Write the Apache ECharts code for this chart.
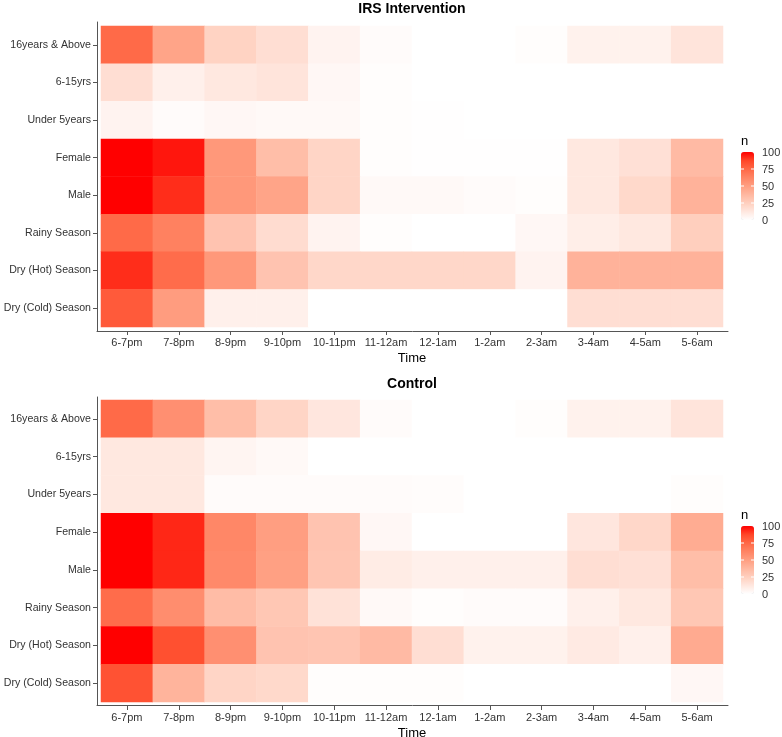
<!DOCTYPE html>
<html>
<head>
<meta charset="utf-8">
<script src="https://cdn.jsdelivr.net/npm/echarts@6/dist/echarts.min.js"></script>
<style>
html,body{margin:0;padding:0;background:#fff;}
#chart{width:782px;height:737px;}
</style>
</head>
<body>
<div id="chart"></div>
<script>
// ---- categories ----
const times = ['6-7pm','7-8pm','8-9pm','9-10pm','10-11pm','11-12am','12-1am','1-2am','2-3am','3-4am','4-5am','5-6am'];
const groups = ['16years & Above','6-15yrs','Under 5years','Female','Male','Rainy Season','Dry (Hot) Season','Dry (Cold) Season'];
const legendTicks = [0, 25, 50, 75, 100];

// ---- IRS Intervention (values per group, across times) ----
const irsAbove16 = [74, 47, 23, 17, 6, 2, 0, 0, 1, 7, 7, 14];
const irs6to15   = [17, 8, 12, 14, 4, 1, 0, 0, 0, 0, 0, 0];
const irsUnder5  = [6, 2, 4, 3, 3, 1, 0.5, 0, 0, 0, 0, 0];
const irsFemale  = [100, 96, 53, 34, 22, 1, 0.5, 0.5, 0.5, 12, 16, 36];
const irsMale    = [100, 92, 53, 47, 22, 3, 3, 2, 1, 12, 20, 40];
const irsRainy   = [74, 64, 31, 18, 6, 1, 0, 0, 4, 9, 12, 25];
const irsDryHot  = [92, 73, 53, 31, 21, 21, 21, 21, 6, 40, 40, 40];
const irsDryCold = [80, 51, 8, 8, 0, 0, 0, 0, 0, 17, 17, 17];

// ---- Control ----
const ctlAbove16 = [74, 57, 34, 22, 13, 2, 0, 0, 1, 7, 7, 14];
const ctl6to15   = [12, 12, 5, 3, 0, 0, 0, 0, 0, 0, 0, 0];
const ctlUnder5  = [12, 12, 2, 2, 2, 2, 1.5, 0, 0, 0, 0, 1];
const ctlFemale  = [100, 93, 61, 50, 31, 4, 0, 0, 0, 13, 21, 43];
const ctlMale    = [100, 93, 60, 49, 30, 10, 8, 8, 8, 17, 16, 34];
const ctlRainy   = [73, 58, 35, 29, 15, 3, 1, 2, 2, 8, 12, 29];
const ctlDryHot  = [100, 84, 57, 31, 30, 36, 17, 7, 7, 11, 8, 44];
const ctlDryCold = [83, 39, 22, 20, 1, 1, 1, 0, 0, 0, 0, 4];

const irsRows = [irsAbove16, irs6to15, irsUnder5, irsFemale, irsMale, irsRainy, irsDryHot, irsDryCold];
const ctlRows = [ctlAbove16, ctl6to15, ctlUnder5, ctlFemale, ctlMale, ctlRainy, ctlDryHot, ctlDryCold];

function toCells(rows) {
  const out = [];
  rows.forEach((r, gi) => r.forEach((v, ti) => out.push([ti, gi, v])));
  return out;
}

// white -> red gradient (Lab-like interpolation as in ggplot)
const gradColors = ['#FFFFFF','#FFE7DF','#FFCFBE','#FFB7A0','#FF9E81','#FF8464','#FF6846','#FF4628','#FF0000'];

const FONT = 'Liberation Sans, Arial, sans-serif';
const AXC = '#555555';
const TXT = '#333333';

const panels = [
  { title: 'IRS Intervention', panelTop: 22, panelH: 309, tileTop: 26, tileH: 301, legTop: 152, rows: irsRows },
  { title: 'Control',          panelTop: 397, panelH: 308, tileTop: 400, tileH: 302, legTop: 526, rows: ctlRows }
];

const grid = [], xAxis = [], yAxis = [], series = [], visualMap = [], graphic = [], title = [];
const legH = 68, legW = 13, legLeft = 741;

panels.forEach((p, i) => {
  grid.push({ left: 97, top: p.panelTop, width: 631, height: p.panelH, containLabel: false, outerBoundsMode: 'none' });
  grid.push({ left: 101, top: p.tileTop, width: 622, height: p.tileH, containLabel: false, outerBoundsMode: 'none' });
  const gP = i * 2, gT = i * 2 + 1;

  xAxis.push({ gridIndex: gP, type: 'value', min: 0, max: 1, axisLine: { show: true, onZero: false, lineStyle: { color: AXC, width: 1 } },
    axisTick: { show: false }, axisLabel: { show: false }, splitLine: { show: false } });
  yAxis.push({ gridIndex: gP, type: 'value', min: 0, max: 1, axisLine: { show: true, onZero: false, lineStyle: { color: AXC, width: 1 } },
    axisTick: { show: false }, axisLabel: { show: false }, splitLine: { show: false } });

  xAxis.push({ gridIndex: gT, type: 'category', data: times, position: 'bottom', offset: 4,
    axisLine: { show: false }, axisTick: { show: true, alignWithLabel: true, length: 4, lineStyle: { color: AXC } },
    axisLabel: { color: TXT, fontSize: 11, fontFamily: FONT, margin: 6, interval: 0 },
    splitLine: { show: false },
    name: 'Time', nameLocation: 'middle', nameGap: 21,
    nameTextStyle: { color: '#000', fontSize: 13, fontFamily: FONT } });
  yAxis.push({ gridIndex: gT, type: 'category', data: groups, inverse: true, position: 'left', offset: 4,
    axisLine: { show: false }, axisTick: { show: true, alignWithLabel: true, length: 4, lineStyle: { color: AXC } },
    axisLabel: { color: TXT, fontSize: 10.6, fontFamily: FONT, margin: 6, interval: 0 },
    splitLine: { show: false } });

  series.push({ type: 'heatmap', xAxisIndex: i * 2 + 1, yAxisIndex: i * 2 + 1, data: toCells(p.rows),
    itemStyle: { borderWidth: 0 }, emphasis: { disabled: true } });

  visualMap.push({ type: 'continuous', seriesIndex: i, min: 0, max: 100, calculable: false, show: true,
    left: legLeft, top: p.legTop, itemWidth: legW, itemHeight: legH, padding: 0, text: null,
    inRange: { color: gradColors } });

  title.push({ text: p.title, left: 412, top: p.panelTop - 20, textAlign: 'center', padding: 0,
    textStyle: { fontSize: 14, fontWeight: 'bold', fontFamily: FONT, color: '#000' } });

  graphic.push({ type: 'text', left: legLeft, top: p.legTop - 17,
    style: { text: 'n', fontSize: 13, fontFamily: FONT, fill: '#000' } });
  legendTicks.forEach(t => {
    const y = p.legTop + (1 - t / 100) * legH;
    graphic.push({ type: 'text', x: 762, y: y + 1,
      style: { text: String(t), fontSize: 11, fontFamily: FONT, fill: TXT, verticalAlign: 'middle', align: 'left' } });
    if (t > 0 && t < 100) {
      graphic.push({ type: 'line', shape: { x1: legLeft, y1: y, x2: legLeft + 3, y2: y }, style: { stroke: '#fff', lineWidth: 1 }, z: 100 });
      graphic.push({ type: 'line', shape: { x1: legLeft + legW - 3, y1: y, x2: legLeft + legW, y2: y }, style: { stroke: '#fff', lineWidth: 1 }, z: 100 });
    }
  });
});

const chart = echarts.init(document.getElementById('chart'), null, { renderer: 'canvas' });
chart.setOption({
  backgroundColor: '#fff',
  animation: false,
  title, grid, xAxis, yAxis, series, visualMap, graphic
});
</script>
</body>
</html>
